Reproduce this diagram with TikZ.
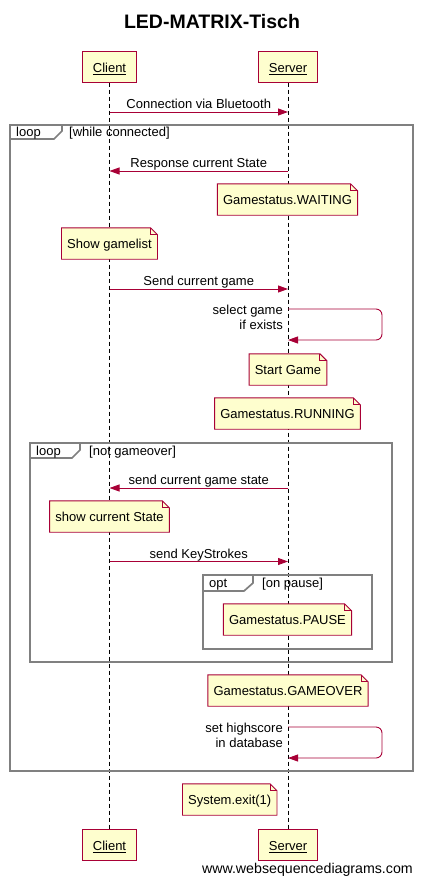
\documentclass[tikz,border=0pt]{standalone}
\usepackage{fontspec}
\setmainfont{Liberation Sans}
\usetikzlibrary{arrows.meta}
\definecolor{sdred}{RGB}{168, 0, 54}
\definecolor{sdyellow}{RGB}{254, 254, 206}
\definecolor{sdgray}{RGB}{128, 128, 128}
\pgfdeclarelayer{back}
\pgfdeclarelayer{notes}
\pgfsetlayers{back,notes,main}

\newcommand{\sdfont}{\fontsize{13}{14.5}\selectfont}

\tikzset{
  actor/.style={draw=sdred, fill=sdyellow, line width=1pt, minimum height=31pt, inner xsep=10pt, text height=11.5pt, text depth=0pt, font=\sdfont},
  lifeline/.style={line width=0.8pt, dash pattern=on 4pt off 3pt},
  msg/.style={sdred, line width=0.9pt, -{Triangle[length=10pt, width=7pt]}},
  msglabel/.style={font=\sdfont, inner sep=0pt, anchor=base, yshift=3.5pt, text=black},
  selflabel/.style={font=\sdfont, inner sep=0pt, anchor=north east, align=right},
  note/.style={minimum height=31pt, inner xsep=5.5pt, text height=10pt, text depth=0pt, font=\sdfont},
  notefill/.style={draw=sdred, fill=sdyellow, line width=0.9pt},
  sdframe/.style={draw=sdgray, line width=1.7pt},
  framelabel/.style={font=\sdfont, inner sep=0pt, anchor=base west},
}

\newcommand{\notebox}[4][]{%
  \node[note, #1] (#2) at (#3) {#4};
  \begin{pgfonlayer}{notes}
    \draw[notefill] (#2.south west) -- (#2.north west) -- ([xshift=-7pt]#2.north east)
      -- ([yshift=-7pt]#2.north east) -- (#2.south east) -- cycle;
    \draw[notefill, fill=none] ([xshift=-7pt]#2.north east) |- ([yshift=-7pt]#2.north east);
  \end{pgfonlayer}}

\begin{document}
\begin{tikzpicture}[x=1pt, y=-1pt]
  \useasboundingbox (0,0) rectangle (422,884);
  \node[font=\fontsize{19.5}{22}\selectfont\bfseries] (title) at (212,21.5) {LED-MATRIX-Tisch};

  \node[actor] (client) at (109.5,66.5) {\underline{Client}};
  \node[actor] (server) at (288,66.5) {\underline{Server}};
  \node[actor] (clientend) at (109.5,844.5) {\underline{Client}};
  \node[actor] (serverend) at (288,844.5) {\underline{Server}};
  \begin{pgfonlayer}{back}
    \draw[lifeline] (client) -- (clientend);
    \draw[lifeline] (server) -- (serverend);
  \end{pgfonlayer}

  \coordinate (m1c) at (109.5,112); \coordinate (m1s) at (288,112);
  \draw[msg] (m1c) -- (m1s) node[msglabel, midway] (l1) {Connection via Bluetooth};

  \draw[sdframe] (10,125) rectangle (413,771);
  \draw[sdframe] (10,139) -- (54,139) -- (62,131) -- (62,125);
  \node[framelabel] (loop1) at (16,136.5) {loop};
  \node[framelabel] (cond1) at (69,136.5) {[while connected]};

  \coordinate (m2c) at (109.5,171); \coordinate (m2s) at (288,171);
  \draw[msg] (m2s) -- (m2c) node[msglabel, midway] (l2) {Response current State};
  \notebox{waiting}{287.5,199.5}{Gamestatus.WAITING}
  \notebox{gamelist}{109.5,243.5}{Show gamelist}

  \coordinate (m3c) at (109.5,289); \coordinate (m3s) at (288,289);
  \draw[msg] (m3c) -- (m3s) node[msglabel, midway] (l3) {Send current game};
  \coordinate (s1a) at (288,309); \coordinate (s1b) at (288,340);
  \draw[msg, rounded corners=6pt] (s1a) -- ++(94,0) |- (s1b);
  \node[selflabel] (ls1) at (283,305) {select game\\if exists};
  \notebox{startgame}{288,369.5}{Start Game}
  \notebox{running}{287.5,413.5}{Gamestatus.RUNNING}

  \draw[sdframe] (30,443) rectangle (392,662);
  \draw[sdframe] (30,458) -- (72,458) -- (80,450) -- (80,443);
  \node[framelabel] (loop2) at (36,455) {loop};
  \node[framelabel] (cond2) at (89,455) {[not gameover]};

  \coordinate (m4c) at (109.5,488); \coordinate (m4s) at (288,488);
  \draw[msg] (m4s) -- (m4c) node[msglabel, midway] (l4) {send current game state};
  \notebox{showstate}{109.5,516.5}{show current State}
  \coordinate (m5c) at (109.5,561.5); \coordinate (m5s) at (288,561.5);
  \draw[msg] (m5c) -- (m5s) node[msglabel, midway] (l5) {send KeyStrokes};

  \draw[sdframe] (203,575) rectangle (372,649);
  \draw[sdframe] (203,591) -- (244,591) -- (253,583) -- (253,575);
  \node[framelabel] (opt1) at (209,587.5) {opt};
  \node[framelabel] (cond3) at (262,587.5) {[on pause]};
  \notebox{pause}{287.5,619.5}{Gamestatus.PAUSE}

  \notebox{gameover}{288,690.5}{Gamestatus.GAMEOVER}
  \coordinate (s2a) at (288,727); \coordinate (s2b) at (288,758);
  \draw[msg, rounded corners=6pt] (s2a) -- ++(94,0) |- (s2b);
  \node[selflabel] (ls2) at (283,723) {set highscore\\in database};

  \notebox[anchor=east]{sysexit}{277,799.5}{System.exit(1)}

  \node[font=\fontsize{14.2}{16}\selectfont, anchor=base east, inner sep=0pt] (credit) at (413,873) {www.websequencediagrams.com};
\end{tikzpicture}
\end{document}
